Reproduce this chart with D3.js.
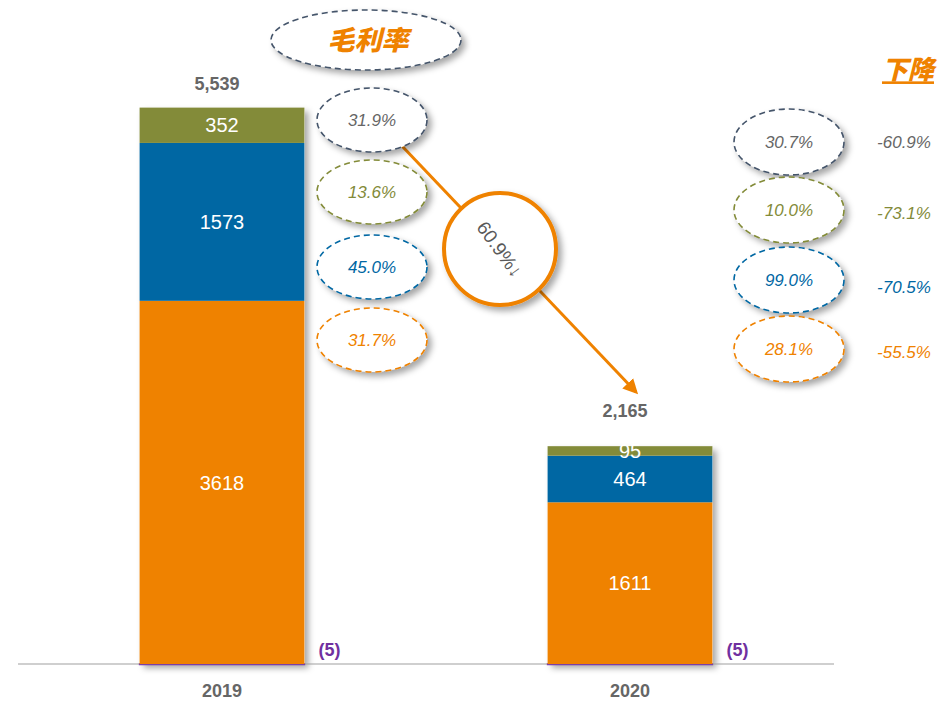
<!DOCTYPE html>
<html>
<head>
<meta charset="utf-8">
<style>
  body { margin: 0; background: #fff; }
  #chart { font-family: "Liberation Sans", Arial, sans-serif; }
</style>
</head>
<body>
<div id="chart"></div>
<script src="https://d3js.org/d3.v7.min.js"></script>
<script>
// chart values
const years = ["2019", "2020"];
const orangeVals = [3618, 1611];
const blueVals = [1573, 464];
const oliveVals = [352, 95];
const purpleVals = [-5, -5];
const totals = ["5,539", "2,165"];
// margin rate bubbles (top to bottom: gray, olive, blue, orange)
const margin2019 = ["31.9%", "13.6%", "45.0%", "31.7%"];
const margin2020 = ["30.7%", "10.0%", "99.0%", "28.1%"];
const declines = ["-60.9%", "-73.1%", "-70.5%", "-55.5%"];
const totalDecline = "60.9%\u2193";

const W = 940, H = 703;
const C = { orange: "#EF8200", blue: "#0067A3", olive: "#838B39", purple: "#7B3FA8", gray: "#666666", slate: "#44546A" };
const rowColors = [C.gray, C.olive, C.blue, C.orange];
const rowStroke = [C.slate, C.olive, C.blue, C.orange];
const narrow = "'Liberation Sans Narrow', 'Arial Narrow', 'Liberation Sans', sans-serif";

const svg = d3.select("#chart").append("svg").attr("width", W).attr("height", H);

const defs = svg.append("defs");
defs.append("filter").attr("id", "shadow").attr("x", "-20%").attr("y", "-20%").attr("width", "150%").attr("height", "150%")
  .append("feDropShadow").attr("dx", 4).attr("dy", 4).attr("stdDeviation", 3)
  .attr("flood-color", "#000").attr("flood-opacity", 0.35);
defs.append("marker").attr("id", "arrow").attr("viewBox", "0 0 10 10")
  .attr("refX", 8).attr("refY", 5).attr("markerWidth", 5).attr("markerHeight", 5)
  .attr("orient", "auto")
  .append("path").attr("d", "M0,0 L10,5 L0,10 z").attr("fill", C.orange);

// scales
const x = d3.scaleBand().domain(years).range([18, 834]).paddingInner(0.596).paddingOuter(0.298);
const y = d3.scaleLinear().domain([0, 5539]).range([664, 108]);

const rows = years.map((yr, i) => ({ year: yr, purple: purpleVals[i], orange: orangeVals[i], blue: blueVals[i], olive: oliveVals[i] }));
const keys = ["purple", "orange", "blue", "olive"];
const colorOf = { purple: C.purple, orange: C.orange, blue: C.blue, olive: C.olive };
const series = d3.stack().keys(keys).offset(d3.stackOffsetDiverging)(rows);
const stackTop = d => d.olive + d.blue + d.orange;

// bar shadows
svg.append("g").selectAll("rect").data(rows).join("rect")
  .attr("x", d => x(d.year))
  .attr("y", d => y(stackTop(d)))
  .attr("width", x.bandwidth())
  .attr("height", d => y(0) - y(stackTop(d)))
  .attr("fill", "#fff").attr("filter", "url(#shadow)");

// axis line
svg.append("line").attr("x1", 18).attr("x2", 834).attr("y1", y(0)).attr("y2", y(0))
  .attr("stroke", "#A0A0A0").attr("stroke-width", 1.2);

// bars
const layer = svg.append("g").selectAll("g").data(series).join("g")
  .attr("fill", d => colorOf[d.key]);
layer.selectAll("rect").data(d => d.map(v => ({ key: d.key, v }))).join("rect")
  .attr("x", d => x(d.v.data.year))
  .attr("y", d => y(Math.max(d.v[0], d.v[1])))
  .attr("width", x.bandwidth())
  .attr("height", d => Math.abs(y(d.v[0]) - y(d.v[1])))
  .attr("stroke", d => d.key === "purple" ? C.purple : "none")
  .attr("stroke-width", 1.5);

// segment labels
series.filter(s => s.key !== "purple").forEach(s => {
  svg.append("g").selectAll("text").data(s).join("text")
    .attr("x", d => x(d.data.year) + x.bandwidth() / 2)
    .attr("y", d => (y(d[0]) + y(d[1])) / 2)
    .attr("dy", "0.36em")
    .attr("text-anchor", "middle")
    .attr("fill", "#fff")
    .attr("font-size", 20)
    .text(d => d.data[s.key]);
});

// negative labels
svg.append("g").selectAll("text").data(rows).join("text")
  .attr("x", d => x(d.year) + x.bandwidth() + 14)
  .attr("y", y(0) - 8)
  .attr("fill", "#7030A0").attr("font-size", 18).attr("font-weight", "bold")
  .text(d => "(" + Math.abs(d.purple) + ")");

// totals
const totalGap = [18, 29];
svg.append("g").selectAll("text").data(rows).join("text")
  .attr("x", d => x(d.year) + x.bandwidth() / 2 - 5)
  .attr("y", (d, i) => y(stackTop(d)) - totalGap[i])
  .attr("text-anchor", "middle")
  .attr("fill", C.gray).attr("font-size", 18).attr("font-weight", "bold")
  .text((d, i) => totals[i]);

// x labels
svg.append("g").selectAll("text").data(years).join("text")
  .attr("x", d => x(d) + x.bandwidth() / 2)
  .attr("y", 697)
  .attr("text-anchor", "middle")
  .attr("fill", C.gray).attr("font-size", 18).attr("font-weight", "bold")
  .text(d => d);

// dashed bubbles
function bubble(g, cx, cy, rx, ry, stroke, txt, color, size) {
  g.append("ellipse").attr("cx", cx).attr("cy", cy).attr("rx", rx).attr("ry", ry)
    .attr("fill", "#fff").attr("stroke", stroke).attr("stroke-width", 1.6)
    .attr("stroke-dasharray", "6,4").attr("filter", "url(#shadow)");
  g.append("text").attr("x", cx).attr("y", cy).attr("dy", "0.36em")
    .attr("text-anchor", "middle").attr("fill", color)
    .attr("font-family", narrow)
    .attr("font-size", size).attr("font-style", "italic")
    .text(txt);
}

// arrow + circle
svg.append("line").attr("x1", 402).attr("y1", 146).attr("x2", 636).attr("y2", 392)
  .attr("stroke", C.orange).attr("stroke-width", 3).attr("marker-end", "url(#arrow)");
svg.append("circle").attr("cx", 500).attr("cy", 249).attr("r", 56)
  .attr("fill", "#fff").attr("stroke", C.orange).attr("stroke-width", 4).attr("filter", "url(#shadow)");
svg.append("text").attr("transform", "translate(500,249) rotate(54)")
  .attr("dy", "0.36em").attr("text-anchor", "middle")
  .attr("fill", "#595959").attr("font-size", 19)
  .text(totalDecline);

const bg = svg.append("g");
const rowY1 = [120, 192, 267, 340];
const rowY2 = [142, 210, 280, 349];
margin2019.forEach((t, i) => bubble(bg, 372, rowY1[i], 55, 32, rowStroke[i], t, rowColors[i], 17));
margin2020.forEach((t, i) => bubble(bg, 789, rowY2[i], 55, 33, rowStroke[i], t, rowColors[i], 17));

// decline labels
svg.append("g").selectAll("text").data(declines).join("text")
  .attr("x", 904).attr("y", (d, i) => [142, 213, 287, 352][i]).attr("dy", "0.36em")
  .attr("text-anchor", "middle").attr("fill", (d, i) => rowColors[i])
  .attr("font-family", narrow)
  .attr("font-size", 17).attr("font-style", "italic")
  .text(d => d);

// title bubble
bubble(svg.append("g"), 366, 40, 95, 30, C.slate, "", C.orange, 26);
svg.append("text").attr("x", 368).attr("y", 40).attr("dy", "0.36em")
  .attr("text-anchor", "middle").attr("fill", C.orange)
  .attr("font-family", "'Noto Sans CJK SC', sans-serif")
  .attr("font-size", 27).attr("font-weight", "900").attr("font-style", "italic")
  .text("毛利率");

svg.append("text").attr("x", 908).attr("y", 70).attr("dy", "0.36em")
  .attr("text-anchor", "middle").attr("fill", C.orange)
  .attr("font-family", "'Noto Sans CJK SC', sans-serif")
  .attr("font-size", 26).attr("font-weight", "900").attr("font-style", "italic")
  .attr("text-decoration", "underline")
  .text("下降");
</script>
</body>
</html>
